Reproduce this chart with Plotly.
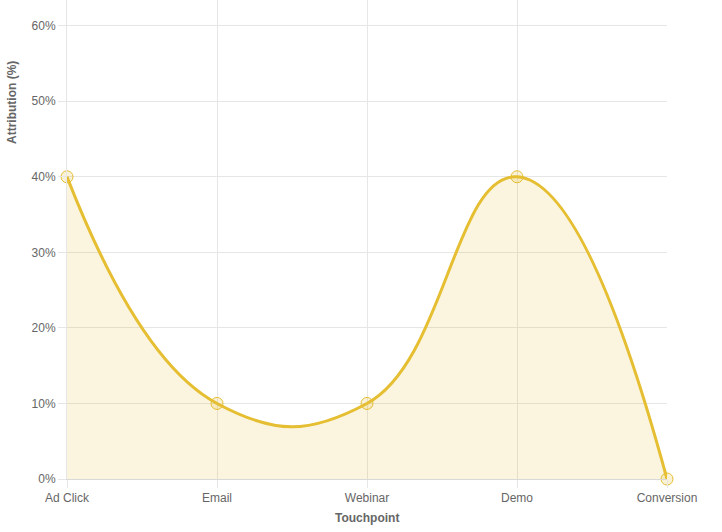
import plotly.graph_objects as go

touchpoints = ['Ad Click', 'Email', 'Webinar', 'Demo', 'Conversion']
attribution = [40, 10, 10, 40, 0]
y_ticks = [0, 10, 20, 30, 40, 50, 60]
y_tick_labels = [f'{v}%' for v in y_ticks]

gold = 'rgb(229,190,50)'

fig = go.Figure()
fig.add_trace(
    go.Scatter(
        x=touchpoints,
        y=attribution,
        mode='lines+markers',
        line=dict(color=gold, width=3, shape='spline', smoothing=1.3),
        fill='tozeroy',
        fillcolor='rgba(229,190,50,0.15)',
        marker=dict(size=12, color='rgba(229,190,50,0.2)',
                    line=dict(color=gold, width=1)),
        showlegend=False,
        cliponaxis=False,
    )
)

fig.update_layout(
    width=722,
    height=532,
    margin=dict(l=67, r=55, t=0, b=53),
    paper_bgcolor='white',
    plot_bgcolor='white',
    font=dict(family='Liberation Sans, Arial, sans-serif', size=12, color='#666'),
    xaxis=dict(
        showgrid=True,
        gridcolor='#e6e6e6',
        ticks='outside',
        ticklen=8,
        tickcolor='#e6e6e6',
        showline=True,
        linecolor='#d9d9d9',
        zeroline=False,
        range=[0, 4],
    ),
    yaxis=dict(
        range=[0, 63.4],
        tickvals=y_ticks,
        ticktext=y_tick_labels,
        showgrid=True,
        gridcolor='#e6e6e6',
        ticks='outside',
        ticklen=8,
        tickcolor='#e6e6e6',
        showline=True,
        linecolor='#e6e6e6',
        zeroline=False,
    ),
    annotations=[
        dict(text='<b>Attribution (%)</b>', textangle=-90, xref='paper', yref='paper',
             x=-0.0917, y=0.787, xanchor='center', yanchor='middle', showarrow=False,
             font=dict(size=12, color='#666')),
        dict(text='<b>Touchpoint</b>', xref='paper', yref='paper',
             x=0.5, y=-0.0814, xanchor='center', yanchor='middle', showarrow=False,
             font=dict(size=12, color='#666')),
    ],
)

# drop the default page margin so the figure sits at the window's corner
fig.write_html('out.html', config={'displayModeBar': False},
               post_script="document.body.style.margin='0';")
